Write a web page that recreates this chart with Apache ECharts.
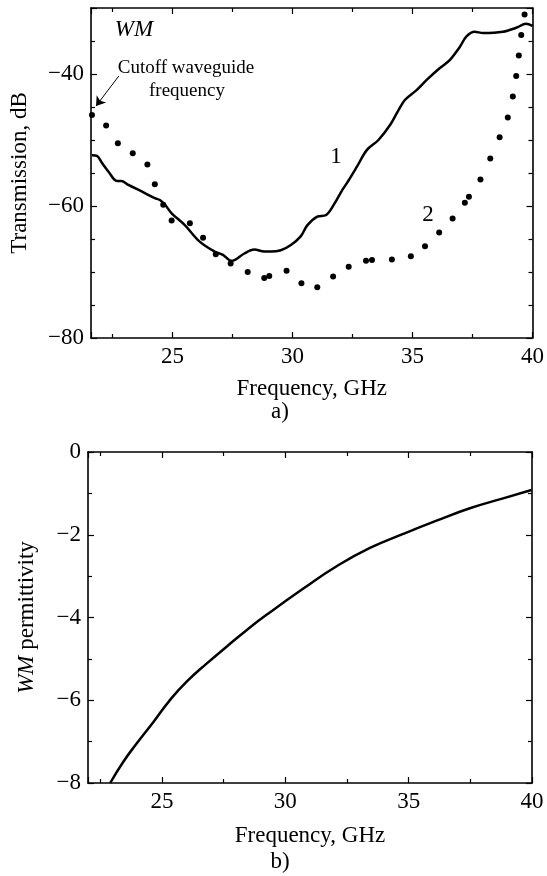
<!DOCTYPE html>
<html>
<head>
<meta charset="utf-8">
<script src="https://cdn.jsdelivr.net/npm/echarts@6/dist/echarts.min.js"></script>
<style>
html,body{margin:0;padding:0;background:#fff;}
#chart{width:547px;height:876px;}
</style>
</head>
<body>
<div id="chart"></div>
<script>
// ---- Data ----
// (a) Transmission, dB vs Frequency, GHz
const curve1Freq = [21.64,21.85,22.06,22.33,22.68,22.86,23.16,23.71,24.26,24.47,24.68,24.96,25.51,26.13,26.75,27.1,27.44,27.58,27.99,28.41,28.82,29.1,29.51,29.93,30.34,30.62,31.03,31.38,31.72,32.07,32.34,32.69,33.1,33.58,34.07,34.41,34.69,35.18,35.59,36.14,36.55,36.97,37.25,37.59,37.94,38.77,39.32,39.73,40.0];
const curve1dB   = [-52.3,-52.4,-53.5,-54.8,-56.2,-56.2,-56.8,-57.8,-58.8,-59.1,-59.8,-61.1,-62.9,-65.4,-66.9,-67.4,-68.3,-68.2,-67.2,-66.6,-66.9,-66.9,-66.7,-65.9,-64.6,-62.9,-61.6,-61.4,-59.8,-57.6,-56.1,-54.0,-51.5,-50.0,-47.7,-45.5,-43.9,-42.4,-40.9,-39.1,-37.9,-35.9,-34.3,-33.6,-33.8,-33.6,-33.0,-32.4,-32.7];
const curve2Freq = [21.64,22.23,22.72,23.34,23.95,24.26,24.61,24.96,25.72,26.27,26.8,27.42,28.13,28.82,29.03,29.75,30.37,31.03,31.69,32.34,33.06,33.31,34.14,34.93,35.52,36.11,36.67,37.18,37.35,37.83,38.24,38.63,38.97,39.18,39.32,39.43,39.53,39.67];
const curve2dB   = [-46.2,-47.8,-50.5,-52.0,-53.7,-56.7,-59.8,-62.2,-62.6,-64.8,-67.3,-68.7,-70.0,-70.9,-70.6,-69.8,-71.7,-72.3,-70.7,-69.2,-68.3,-68.2,-68.1,-67.6,-66.1,-64.0,-61.9,-59.5,-58.6,-56.0,-52.8,-49.6,-46.6,-43.4,-40.3,-37.2,-34.1,-31.0];
// cutoff arrow (from text to curve start), in data units
const arrowFrom = [22.76, -40.3];
const arrowTo   = [21.81, -44.85];

// (b) WM permittivity vs Frequency, GHz
const permFreq = [22.9,23.44,23.98,24.66,25.33,26.0,26.82,27.63,28.44,29.25,30.73,32.08,33.43,34.78,36.13,37.48,38.83,39.98];
const permVal  = [-8.0,-7.48,-7.04,-6.52,-5.99,-5.55,-5.11,-4.70,-4.30,-3.93,-3.30,-2.76,-2.32,-1.98,-1.66,-1.36,-1.12,-0.92];

// axis ranges / ticks
const xRangeA = [21.6, 40];
const yRangeA = [-80, -30];
const xRangeB = [22, 40];
const yRangeB = [-8, 0];
const xMajor = 5, yMajorA = 20, yMajorB = 2;

// ---- Chart ----
const FONT = "'Liberation Serif','Times New Roman',serif";
const zip = (a, b) => a.map((v, i) => [v, b[i]]);
const isMult = (v, m) => Math.abs(v / m - Math.round(v / m)) < 1e-6;
const fmtNum = v => (v < 0 ? '\u2212' + Math.abs(v) : String(v));

function baseAxis(extra) {
  return Object.assign({
    type: 'value',
    scale: true,
    axisLine: { show: true, onZero: false, lineStyle: { color: '#000', width: 1.6 } },
    axisTick: { show: true, inside: true, length: 6, lineStyle: { color: '#000', width: 1.2 } },
    minorTick: { show: true, length: 4, lineStyle: { color: '#000', width: 1.2 } },
    splitLine: { show: false },
    minorSplitLine: { show: false },
    axisLabel: { show: false }
  }, extra);
}
function labels(mult) {
  return {
    show: true, color: '#000', fontFamily: FONT, fontSize: 23, margin: 7,
    showMinLabel: true, showMaxLabel: true,
    formatter: v => (isMult(v, mult) ? fmtNum(Math.round(v)) : '')
  };
}
function minor(n) {
  return { show: true, splitNumber: n, length: 4, lineStyle: { color: '#000', width: 1.2 } };
}
const nameStyle = { color: '#000', fontFamily: FONT, fontSize: 23 };

const chart = echarts.init(document.getElementById('chart'), null, { renderer: 'canvas' });
chart.setOption({
  animation: false,
  backgroundColor: '#fff',
  grid: [
    { left: 89, top: 8, width: 444, height: 330 },
    { left: 88, top: 452, width: 444, height: 331 }
  ],
  xAxis: [
    baseAxis({ gridIndex: 0, position: 'bottom', min: xRangeA[0], max: xRangeA[1], splitNumber: 4,
      minorTick: minor(2), axisLabel: labels(xMajor),
      name: 'Frequency, GHz', nameLocation: 'middle', nameGap: 39, nameTextStyle: nameStyle }),
    baseAxis({ gridIndex: 0, position: 'top', min: xRangeA[0], max: xRangeA[1], splitNumber: 4, minorTick: minor(2) }),
    baseAxis({ gridIndex: 1, position: 'bottom', min: xRangeB[0], max: xRangeB[1], splitNumber: 4,
      minorTick: minor(2), axisLabel: labels(xMajor),
      name: 'Frequency, GHz', nameLocation: 'middle', nameGap: 41, nameTextStyle: nameStyle }),
    baseAxis({ gridIndex: 1, position: 'top', min: xRangeB[0], max: xRangeB[1], splitNumber: 4, minorTick: minor(2) })
  ],
  yAxis: [
    baseAxis({ gridIndex: 0, position: 'left', min: yRangeA[0], max: yRangeA[1], splitNumber: 3,
      minorTick: minor(4), axisLabel: labels(yMajorA),
      name: 'Transmission, dB', nameLocation: 'middle', nameGap: 60, nameTextStyle: nameStyle }),
    baseAxis({ gridIndex: 0, position: 'right', min: yRangeA[0], max: yRangeA[1], splitNumber: 3, minorTick: minor(4) }),
    baseAxis({ gridIndex: 1, position: 'left', min: yRangeB[0], max: yRangeB[1], splitNumber: 4,
      minorTick: minor(2), axisLabel: labels(yMajorB),
      name: '{i|WM} permittivity', nameLocation: 'middle', nameGap: 50,
      nameTextStyle: Object.assign({}, nameStyle, { rich: { i: { fontStyle: 'italic', fontFamily: FONT, fontSize: 23, color: '#000' } } }) }),
    baseAxis({ gridIndex: 1, position: 'right', min: yRangeB[0], max: yRangeB[1], splitNumber: 4, minorTick: minor(2) })
  ],
  series: [
    {
      type: 'line', xAxisIndex: 0, yAxisIndex: 0,
      data: zip(curve1Freq, curve1dB),
      showSymbol: false, smooth: 0.35,
      lineStyle: { color: '#000', width: 2.5 }
    },
    {
      type: 'scatter', xAxisIndex: 0, yAxisIndex: 0,
      data: zip(curve2Freq, curve2dB),
      symbol: 'circle', symbolSize: 6,
      itemStyle: { color: '#000', opacity: 1 },
      markLine: {
        silent: true, animation: false,
        symbol: ['none', 'arrow'], symbolSize: 9,
        lineStyle: { color: '#000', width: 1, type: 'solid', opacity: 1 },
        label: { show: false },
        emphasis: { disabled: true },
        data: [[{ coord: arrowFrom }, { coord: arrowTo }]]
      }
    },
    {
      type: 'line', xAxisIndex: 2, yAxisIndex: 2,
      data: zip(permFreq, permVal),
      showSymbol: false, smooth: 0.5,
      lineStyle: { color: '#000', width: 2.5 }
    }
  ],
  graphic: [
    { type: 'text', x: 134, y: 30, style: { text: 'WM', font: 'italic 23px ' + FONT, fill: '#000', textAlign: 'center', textVerticalAlign: 'middle' } },
    { type: 'text', x: 186, y: 68, style: { text: 'Cutoff waveguide', font: '19px ' + FONT, fill: '#000', textAlign: 'center', textVerticalAlign: 'middle' } },
    { type: 'text', x: 187, y: 91, style: { text: 'frequency', font: '19px ' + FONT, fill: '#000', textAlign: 'center', textVerticalAlign: 'middle' } },
    { type: 'text', x: 336, y: 157, style: { text: '1', font: '23px ' + FONT, fill: '#000', textAlign: 'center', textVerticalAlign: 'middle' } },
    { type: 'text', x: 428, y: 215, style: { text: '2', font: '23px ' + FONT, fill: '#000', textAlign: 'center', textVerticalAlign: 'middle' } },
    { type: 'text', x: 280, y: 412, style: { text: 'a)', font: '23px ' + FONT, fill: '#000', textAlign: 'center', textVerticalAlign: 'middle' } },
    { type: 'text', x: 280, y: 862, style: { text: 'b)', font: '23px ' + FONT, fill: '#000', textAlign: 'center', textVerticalAlign: 'middle' } }
  ]
});
</script>
</body>
</html>
